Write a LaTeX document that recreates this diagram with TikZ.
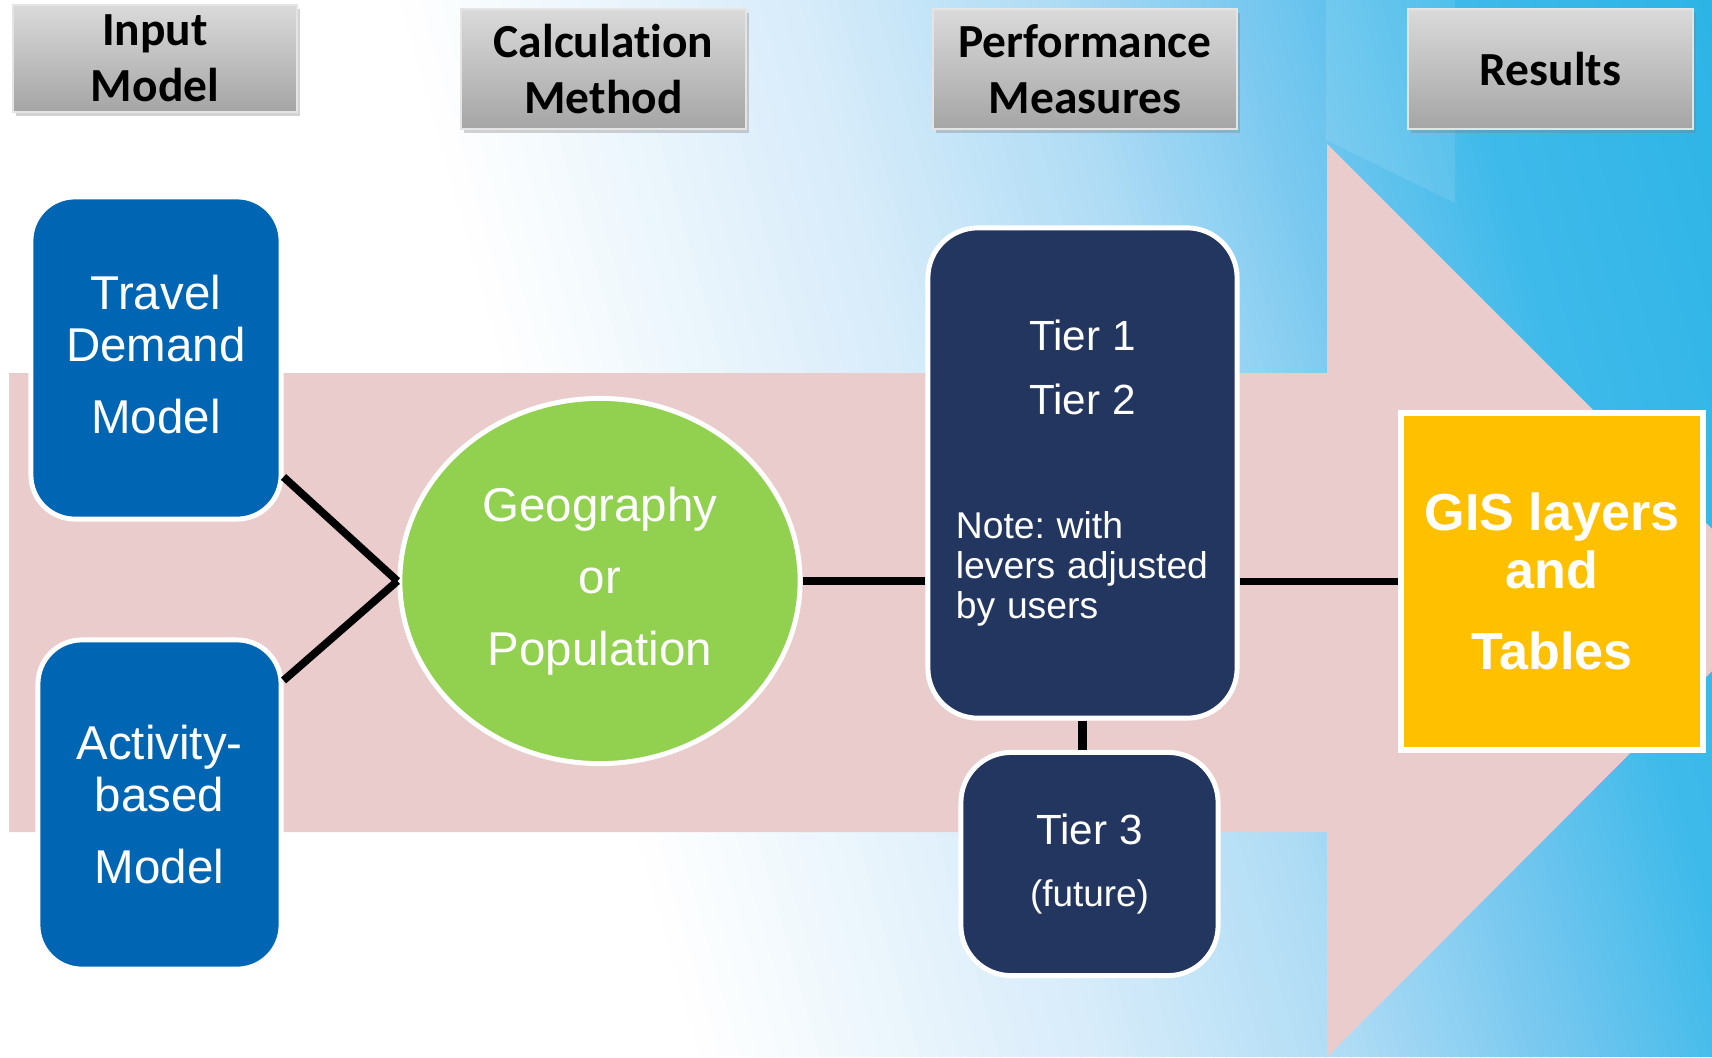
\documentclass[tikz,border=0pt]{standalone}
\usepackage{fontspec}
\setmainfont{Liberation Sans}
\newfontfamily\headfont[Ligatures=NoCommon]{Carlito}
\usetikzlibrary{shapes.geometric,shadows}
\definecolor{headtop}{RGB}{218,218,218}
\definecolor{headbot}{RGB}{165,165,165}
\definecolor{headedge}{RGB}{228,228,228}
\definecolor{modelblue}{RGB}{0,102,179}
\definecolor{tiernavy}{RGB}{35,54,96}
\definecolor{geogreen}{RGB}{146,208,80}
\definecolor{gisorange}{RGB}{255,192,0}
\definecolor{arrowpink}{RGB}{234,204,204}
\definecolor{skya}{RGB}{215,236,250}
\definecolor{skyb}{RGB}{175,220,245}
\definecolor{skyc}{RGB}{120,200,240}
\definecolor{skyd}{RGB}{62,186,234}
\definecolor{skye}{RGB}{45,180,230}

\begin{document}
\begin{tikzpicture}[x=0.01cm,y=-0.01cm,
  head/.style={draw=headedge,line width=.6pt,top color=headtop,bottom color=headbot,
    drop shadow={shadow xshift=.8pt,shadow yshift=-1.2pt,opacity=.35},
    align=center,inner sep=0pt,font=\headfont\bfseries\fontsize{13.5}{16}\selectfont},
  model/.style={draw=white,line width=1.4pt,fill=modelblue,rounded corners=.44cm,text=white,
    align=center,inner sep=0pt,font=\fontsize{13.5}{14.8}\selectfont},
  tierbox/.style={draw=white,line width=1.4pt,fill=tiernavy,rounded corners=.5cm,text=white,inner sep=0pt},
  link/.style={line width=2.2pt}]
\useasboundingbox (0,0) rectangle (1712,1057);
% background: slanted bands from white to sky blue, then the big arrow
\begin{scope}
\clip (0,0) rectangle (1712,1057);
\fill[white] (0,0) rectangle (1712,1057);
\foreach \xa/\xb/\ca/\cb in {400/800/white/skya,800/1050/skya/skyb,1050/1250/skyb/skyc,1250/1450/skyc/skyd,1450/1712/skyd/skye}{
  \foreach \i in {0,...,19}{
    \pgfmathsetmacro\xl{\xa+(\xb-\xa)*\i/20}
    \pgfmathsetmacro\xr{\xa+(\xb-\xa)*(\i+1)/20+1.5}
    \pgfmathsetmacro\p{100*(\i+0.5)/20}
    \fill[\cb!\p!\ca] (\xl,0) -- (\xr,0) -- (\xr+300,1057) -- (\xl+300,1057) -- cycle;
  }
}
\fill[skye] (1712,0) -- (2100,0) -- (2100,1057) -- (2012,1057) -- cycle;
\fill[white,opacity=.1] (1326,0) -- (1455,0) -- (1455,203) -- (1326,140) -- cycle;
\fill[arrowpink] (9,373) -- (1327,373) -- (1327,144) -- (1783,600) -- (1327,1057) -- (1327,832) -- (9,832) -- cycle;
\end{scope}
% column headers
\node[head,minimum width=2.84cm,minimum height=1.07cm] (input) at (155,58.5) {Input\\Model};
\node[head,minimum width=2.85cm,minimum height=1.2cm] (calc) at (603.5,69) {Calculation\\Method};
\node[head,minimum width=3.04cm,minimum height=1.2cm] (perf) at (1085,69) {Performance\\Measures};
\node[head,minimum width=2.85cm,minimum height=1.2cm] (res) at (1550.5,69) {Results};
% boxes
\node[model,minimum width=2.5cm,minimum height=3.22cm] (travel) at (156,358) {Travel\\Demand\\[5.5pt]Model\\[-12.6pt]};
\node[model,minimum width=2.43cm,minimum height=3.29cm] (activity) at (159.5,804.5) {Activity-\\based\\[5.5pt]Model};
\node[ellipse,draw=white,line width=1.4pt,fill=geogreen,text=white,align=center,inner sep=0pt,
  minimum width=4cm,minimum height=3.65cm,font=\fontsize{13.5}{20.5}\selectfont] (geo) at (600,581) {Geography\\or\\Population};
\node[tierbox,minimum width=3.09cm,minimum height=4.9cm,text width=2.53cm] (tier) at (1082.5,473)
  {\frenchspacing\fontsize{12}{18.2}\selectfont\centering Tier 1\\Tier 2\par\vspace{24pt}
   \fontsize{10.6}{11.4}\selectfont\raggedright Note: with\\levers adjusted\\by users\par};
\node[tierbox,minimum width=2.57cm,minimum height=2.23cm,align=center,font=\fontsize{12}{14.4}\selectfont] (tier3) at (1089.5,864)
  {Tier 3\\[3pt]{\fontsize{10.5}{12}\selectfont(future)}};
\node[draw=white,line width=1.6pt,fill=gisorange,text=white,align=center,inner sep=0pt,
  minimum width=3.02cm,minimum height=3.37cm,font=\bfseries\fontsize{14.8}{16.5}\selectfont] (gis) at (1552,581.5) {GIS layers\\and\\[6.5pt]Tables};
% connectors
\draw[link] (travel.-43.6) -- (geo.west);
\draw[link] (activity.45.9) -- (geo.west);
\draw[link] (geo.east) -- (geo.east -| tier.west);
\draw[link] (tier.east |- gis.west) -- (gis.west);
\draw[line width=2.4pt] (tier.south) -- (tier.south |- tier3.north);
\end{tikzpicture}
\end{document}
